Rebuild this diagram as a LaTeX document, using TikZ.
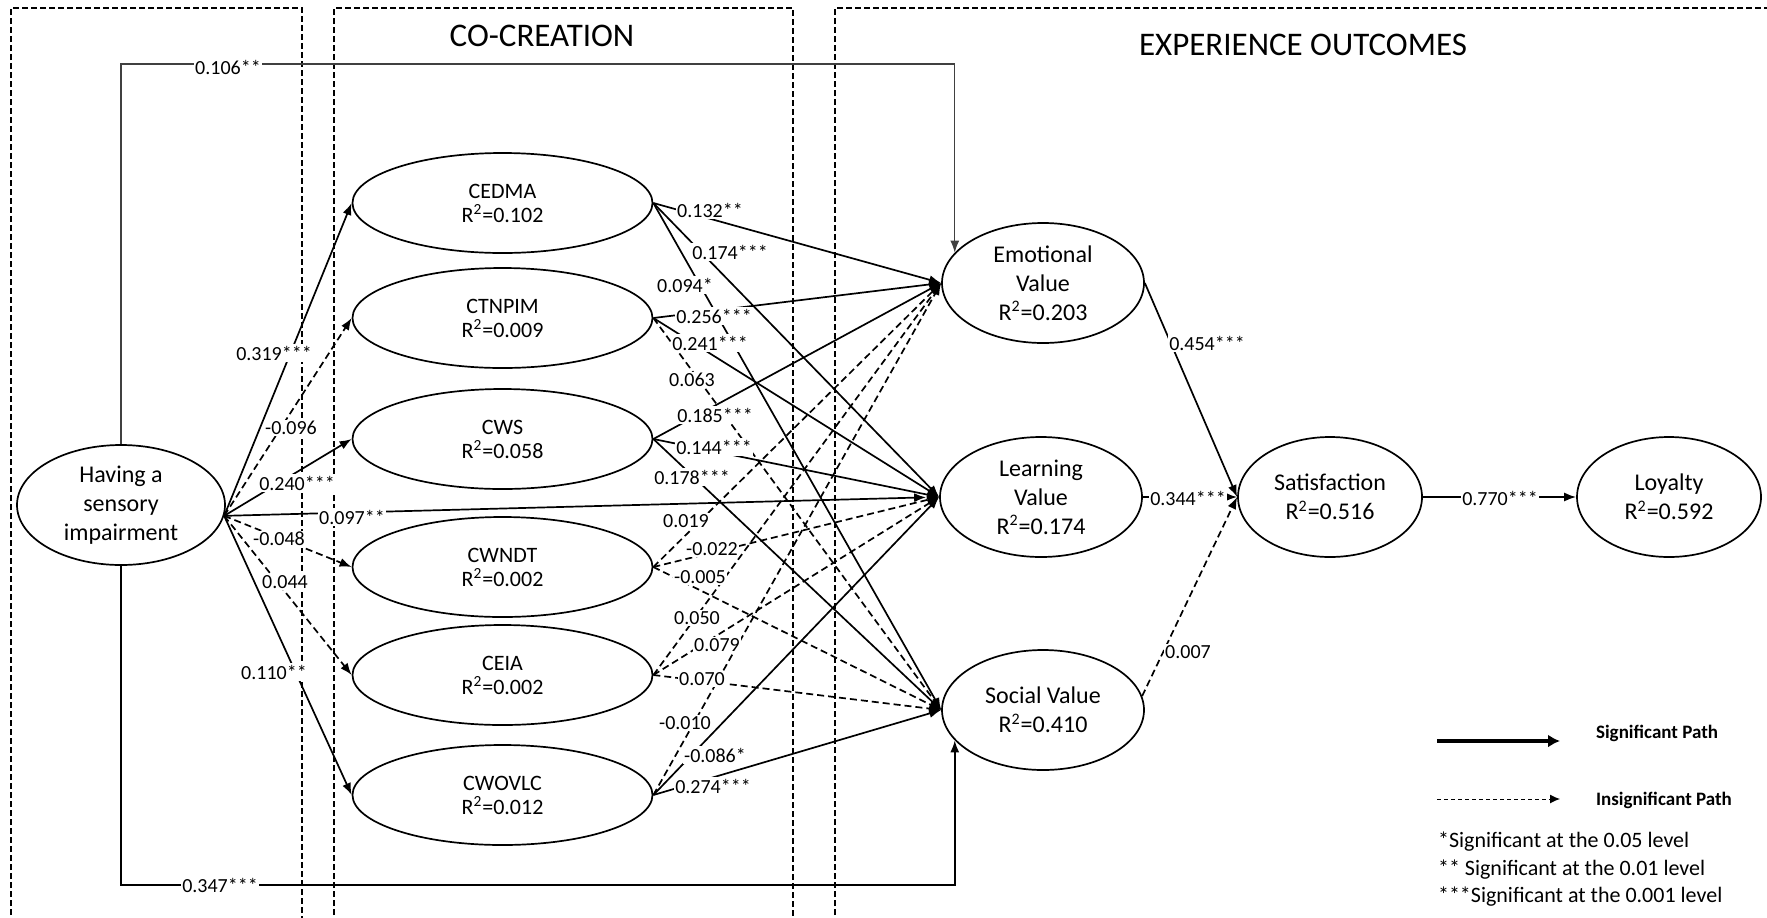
\documentclass[tikz,border=0pt]{standalone}
\usepackage{fontspec}
\setmainfont{Carlito}
\usetikzlibrary{arrows.meta,shapes.geometric}
\begin{document}
\begin{tikzpicture}[x=0.5pt,y=-0.5pt,
  construct/.style={ellipse,draw,line width=0.85pt,inner sep=0pt,align=center},
  cocre/.style={construct,minimum width=150pt,minimum height=50pt,font=\fontsize{11}{12}\selectfont},
  outcome/.style={construct,minimum width=101pt,minimum height=60pt,font=\fontsize{12}{14.5}\selectfont},
  final/.style={construct,minimum width=92pt,minimum height=60pt,font=\fontsize{12}{14.5}\selectfont},
  source/.style={construct,minimum width=104pt,minimum height=60pt,font=\fontsize{12}{14.5}\selectfont},
  sig/.style={line width=0.85pt,-{Latex[length=6pt,width=4.5pt]}},
  insig/.style={sig,dash pattern=on 3.5pt off 2pt},
  direct/.style={line width=0.6pt,draw=black!75,-{Latex[length=6pt,width=4.5pt]}},
  coef/.style={fill=white,inner sep=0.8pt,font=\fontsize{10}{12}\selectfont},
  region/.style={line width=1.2pt,dash pattern=on 3pt off 1.5pt},
  title/.style={font=\fontsize{16.5}{20}\selectfont},
  legtext/.style={anchor=west,font=\bfseries\fontsize{9.5}{11}\selectfont},
  note/.style={anchor=west,font=\fontsize{11}{13}\selectfont},
]
\useasboundingbox (0,0) rectangle (1767,917);
\clip (0,0) rectangle (1767,917);

% dashed regions
\draw[region] (11,960) rectangle (302,8);
\draw[region] (334,960) rectangle (793,8);
\draw[region] (835,960) rectangle (1800,8);
\node[title] (tco) at (542,36) {CO-CREATION};
\node[title] (texp) at (1303,45) {EXPERIENCE OUTCOMES};

% constructs
\node[source] (imp) at (121,505) {Having a\\sensory\\impairment};
\node[cocre] (cedma)  at (502.5,203) {CEDMA\\R\textsuperscript{2}=0.102};
\node[cocre] (ctnpim) at (502.5,318) {CTNPIM\\R\textsuperscript{2}=0.009};
\node[cocre] (cws)    at (502.5,439) {CWS\\R\textsuperscript{2}=0.058};
\node[cocre] (cwndt)  at (502.5,567) {CWNDT\\R\textsuperscript{2}=0.002};
\node[cocre] (ceia)   at (502.5,675) {CEIA\\R\textsuperscript{2}=0.002};
\node[cocre] (cwovlc) at (502.5,795) {CWOVLC\\R\textsuperscript{2}=0.012};
\node[outcome] (emo) at (1043,283) {Emotional\\Value\\R\textsuperscript{2}=0.203};
\node[outcome] (lrn) at (1041,497) {Learning\\Value\\R\textsuperscript{2}=0.174};
\node[outcome] (soc) at (1043,710) {Social Value\\R\textsuperscript{2}=0.410};
\node[final] (sat) at (1330,497) {Satisfaction\\R\textsuperscript{2}=0.516};
\node[final] (loy) at (1669,497) {Loyalty\\R\textsuperscript{2}=0.592};

% paths from sensory impairment
\coordinate (hub) at (imp.-6);
\draw[sig]   (hub) -- (cedma.west);
\draw[insig] (hub) -- (ctnpim.west);
\draw[sig]   (hub) -- (cws.west);
\draw[sig,shorten >=6.5pt] (hub) -- (lrn.west);
\draw[insig] (hub) -- (cwndt.west);
\draw[insig] (hub) -- (ceia.west);
\draw[sig]   (hub) -- (cwovlc.west);
\coordinate (t106) at (0,64);
\coordinate (b347) at (0,885);
\draw[direct] (imp.north) |- (emo.161 |- t106) -- (emo.161);
\draw[sig] (imp.south) |- (soc.199 |- b347) -- (soc.199);

% co-creation to value
\draw[sig]   (cedma.east) -- (emo.west);
\draw[sig]   (cedma.east) -- (lrn.west);
\draw[sig]   (cedma.east) -- (soc.west);
\draw[sig]   (ctnpim.east) -- (emo.west);
\draw[sig]   (ctnpim.east) -- (lrn.west);
\draw[insig] (ctnpim.east) -- (soc.west);
\draw[sig]   (cws.east) -- (emo.west);
\draw[sig]   (cws.east) -- (lrn.west);
\draw[sig]   (cws.east) -- (soc.west);
\draw[insig] (cwndt.east) -- (emo.west);
\draw[insig] (cwndt.east) -- (lrn.west);
\draw[insig] (cwndt.east) -- (soc.west);
\draw[insig] (ceia.east) -- (emo.west);
\draw[insig] (ceia.east) -- (lrn.west);
\draw[insig] (ceia.east) -- (soc.west);
\draw[insig] (cwovlc.east) -- (emo.west);
\draw[sig]   (cwovlc.east) -- (lrn.west);
\draw[sig]   (cwovlc.east) -- (soc.west);

% value to satisfaction to loyalty
\draw[sig]   (emo.east) -- (sat.west);
\draw[sig]   (lrn.east) -- (sat.west);
\draw[insig] (soc.8) -- (sat.west);
\draw[sig]   (sat.east) -- (loy.west);

% coefficients
\node[coef] (k01) at (274,353) {0.319***};
\node[coef] (k02) at (291,428) {-0.096};
\node[coef] (k03) at (297,483) {0.240***};
\node[coef] (k04) at (352,517) {0.097**};
\node[coef] (k05) at (279,539) {-0.048};
\node[coef] (k06) at (285,582) {0.044};
\node[coef] (k07) at (274,672) {0.110**};
\node[coef] (k08) at (228,67) {0.106**};
\node[coef] (k09) at (220,885) {0.347***};
\node[coef] (k10) at (710,210) {0.132**};
\node[coef] (k11) at (730,252) {0.174***};
\node[coef] (k12) at (685,285) {0.094*};
\node[coef] (k13) at (714,316) {0.256***};
\node[coef] (k14) at (710,343) {0.241***};
\node[coef] (k15) at (692,380) {0.063};
\node[coef] (k16) at (715,415) {0.185***};
\node[coef] (k17) at (714,447) {0.144***};
\node[coef] (k18) at (692,477) {0.178***};
\node[coef] (k19) at (686,521) {0.019};
\node[coef] (k20) at (712,549) {-0.022};
\node[coef] (k21) at (700,577) {-0.005};
\node[coef] (k22) at (697,618) {0.050};
\node[coef] (k23) at (717,645) {0.079};
\node[coef] (k24) at (702,679) {0.070};
\node[coef] (k25) at (685,723) {-0.010};
\node[coef] (k26) at (715,755) {-0.086*};
\node[coef] (k27) at (713,786) {0.274***};
\node[coef] (k28) at (1207,343) {0.454***};
\node[coef] (k29) at (1188,498) {0.344***};
\node[coef] (k30) at (1188,652) {0.007};
\node[coef] (k31) at (1500,498) {0.770***};

% legend
\coordinate (lg1a) at (1437,741);
\coordinate (lg1b) at (1560,741);
\draw[line width=2pt,-{Latex[length=6pt,width=6.5pt]}] (lg1a) -- (lg1b);
\coordinate (lg2a) at (1437,799);
\coordinate (lg2b) at (1560,799);
\draw[line width=0.5pt,dash pattern=on 2pt off 1.5pt,-{Latex[length=5pt,width=4.5pt]}] (lg2a) -- (lg2b);
\node[legtext] (lgs) at (1589,733) {Significant Path};
\node[legtext] (lgi) at (1589,800) {Insignificant Path};
\node[note] (n1) at (1431,842) {*Significant at the 0.05 level};
\node[note] (n2) at (1431,870) {** Significant at the 0.01 level};
\node[note] (n3) at (1431,897) {***Significant at the 0.001 level};
\end{tikzpicture}
\end{document}
